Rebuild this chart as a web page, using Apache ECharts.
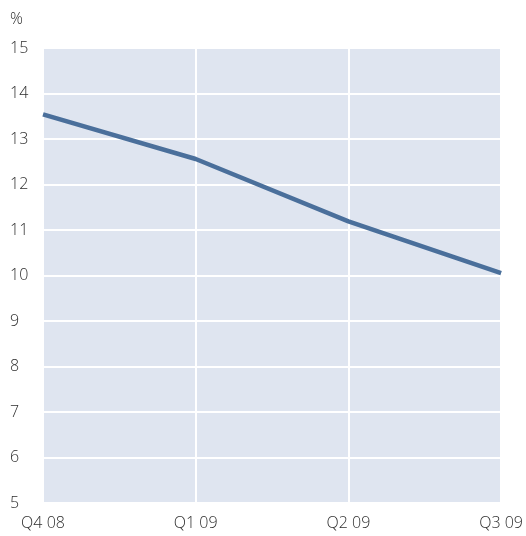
<!DOCTYPE html>
<html>
<head>
<meta charset="utf-8">
<script src="https://cdn.jsdelivr.net/npm/echarts@6/dist/echarts.min.js"></script>
<style>
  html, body { margin: 0; padding: 0; background: #ffffff; }
  #chart { width: 526px; height: 536px; }
</style>
</head>
<body>
<div id="chart"></div>
<script>
// Quarterly series, percent
const quarters = ['Q4 08', 'Q1 09', 'Q2 09', 'Q3 09'];
const values = [13.54, 12.56, 11.19, 10.05];
const yMin = 5;
const yMax = 15;
const yStep = 1;

const textColor = '#2e2e2e';
const fontFamily = '"Open Sans", "Noto Sans", sans-serif';

const chart = echarts.init(document.getElementById('chart'), null, { renderer: 'canvas' });

chart.setOption({
  animation: false,
  backgroundColor: '#ffffff',
  textStyle: { fontFamily: fontFamily },
  graphic: [{
    type: 'text',
    left: 10,
    top: 11,
    style: { text: '%', fill: textColor, font: '300 16px ' + fontFamily }
  }],
  grid: {
    left: 43,
    right: 24,
    top: 48,
    bottom: 33,
    show: true,
    backgroundColor: '#dfe5f0',
    borderWidth: 0
  },
  xAxis: {
    type: 'category',
    data: quarters,
    boundaryGap: false,
    axisLine: { show: false },
    axisTick: { show: false },
    axisLabel: {
      color: textColor,
      fontSize: 16,
      fontWeight: 300,
      fontFamily: fontFamily,
      margin: 12,
      showMinLabel: true,
      showMaxLabel: true,
      interval: 0
    },
    splitLine: { show: true, lineStyle: { color: '#ffffff', width: 2 } }
  },
  yAxis: {
    type: 'value',
    min: yMin,
    max: yMax,
    interval: yStep,
    axisLine: { show: false },
    axisTick: { show: false },
    axisLabel: {
      color: textColor,
      fontSize: 16,
      fontWeight: 300,
      fontFamily: fontFamily,
      align: 'left',
      margin: 33
    },
    splitLine: { show: true, lineStyle: { color: '#ffffff', width: 2 } }
  },
  series: [{
    type: 'line',
    data: values,
    symbol: 'none',
    lineStyle: { color: '#4a6f9b', width: 4.5 },
    z: 3
  }]
});
</script>
</body>
</html>
